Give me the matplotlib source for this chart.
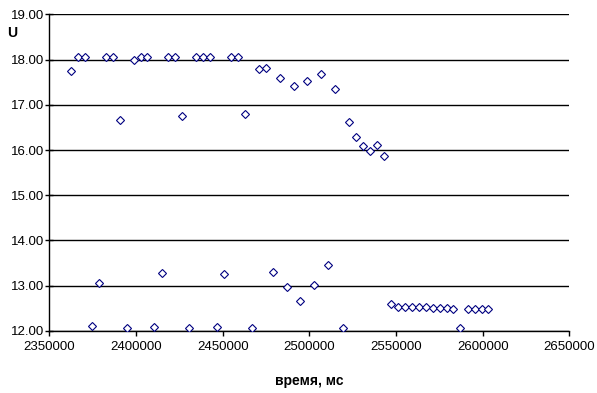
import matplotlib
matplotlib.use('Agg')
import matplotlib.pyplot as plt

plt.rcParams['font.family'] = ['Liberation Sans', 'DejaVu Sans']

# верхняя группа точек (время, мс / U)
t_top = [2362500, 2366700, 2370800, 2382700, 2386900, 2391000, 2399000, 2402900,
         2406500, 2418600, 2422700, 2426700, 2434600, 2438800, 2442700, 2454800,
         2459000, 2463100, 2471000, 2475200, 2483300, 2491000, 2498800, 2506900,
         2515000, 2523100, 2527100, 2531200, 2535200, 2539200, 2543300]
u_top = [17.75, 18.05, 18.05, 18.05, 18.05, 16.66, 17.99, 18.05,
         18.05, 18.05, 18.05, 16.75, 18.05, 18.05, 18.05, 18.05,
         18.05, 16.79, 17.80, 17.82, 17.60, 17.41, 17.52, 17.68,
         17.34, 16.62, 16.28, 16.08, 15.98, 16.11, 15.87]

# нижняя группа точек
t_low = [2374800, 2378900, 2395000, 2410600, 2414800, 2430800, 2446900, 2451000,
         2467100, 2479200, 2487300, 2494800, 2502900, 2511000, 2519300, 2547300,
         2551300, 2555400, 2559400, 2563500, 2567500, 2571500, 2575400, 2579300,
         2583100, 2587100, 2591500, 2595600, 2599500, 2603300]
u_low = [12.10, 13.06, 12.06, 12.08, 13.28, 12.06, 12.08, 13.25,
         12.06, 13.30, 12.97, 12.66, 13.01, 13.45, 12.06, 12.59,
         12.53, 12.52, 12.52, 12.52, 12.52, 12.51, 12.51, 12.50,
         12.49, 12.06, 12.48, 12.48, 12.48, 12.48]

fig = plt.figure(figsize=(5.97, 3.93), dpi=100)
ax = fig.add_axes([0.0826, 0.158, 0.871, 0.8055])

ax.plot(t_top + t_low, u_top + u_low, linestyle='none', marker='D', markersize=4.2,
        markerfacecolor='white', markeredgecolor='#000080', markeredgewidth=0.8,
        zorder=3)

ax.set_xlim(2350000, 2650000)
ax.set_ylim(12, 19)
ax.set_xticks(range(2350000, 2650001, 50000))
ax.set_xticklabels([str(v) for v in range(2350000, 2650001, 50000)])
ax.set_yticks(range(12, 20))
ax.set_yticklabels(['%.2f' % v for v in range(12, 20)])
ax.yaxis.grid(True, color='black', linewidth=1.0)
ax.set_axisbelow(True)

for s in ['top', 'right']:
    ax.spines[s].set_visible(False)
for s in ['left', 'bottom']:
    ax.spines[s].set_linewidth(1.0)

ax.tick_params(axis='y', direction='inout', length=6, width=1, labelsize=9.5, pad=1)
ax.tick_params(axis='x', direction='out', length=3.5, width=1, labelsize=9.5, pad=4)

ax.set_xlabel('время, мс', fontsize=10, fontweight='bold', labelpad=15)
fig.text(0.012, 0.916, 'U', fontsize=10, fontweight='bold', ha='left', va='center')

fig.savefig('out.png', dpi=100)
